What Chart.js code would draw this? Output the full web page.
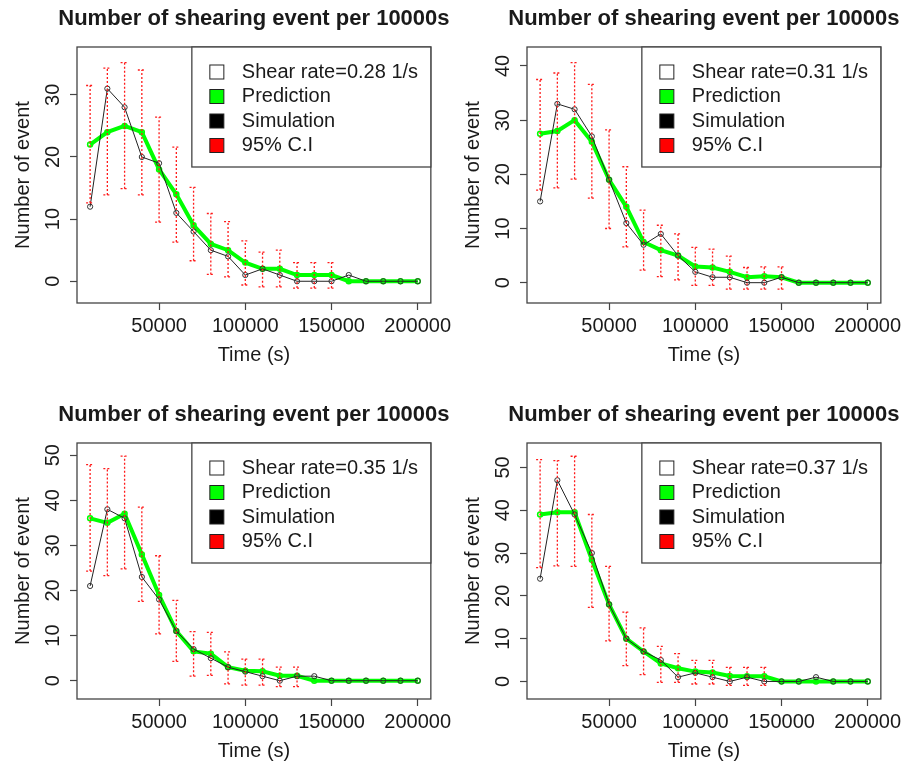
<!DOCTYPE html>
<html>
<head>
<meta charset="utf-8">
<title>Shearing events per 10000 s</title>
<script src="https://cdn.jsdelivr.net/npm/chart.js@4/dist/chart.umd.min.js"></script>
<style>
  body { margin: 0; background: #fff; width: 912px; height: 763px; position: relative; overflow: hidden; }
  .panel { position: absolute; width: 456px; height: 367px; }
</style>
</head>
<body>
<div class="panel" style="left:0;top:0"><canvas id="p1" width="456" height="367"></canvas></div>
<div class="panel" style="left:450px;top:0"><canvas id="p2" width="456" height="367"></canvas></div>
<div class="panel" style="left:0;top:396px"><canvas id="p3" width="456" height="367"></canvas></div>
<div class="panel" style="left:450px;top:396px"><canvas id="p4" width="456" height="367"></canvas></div>

<script>
// time bins (s)
const timeSec = [10000, 20000, 30000, 40000, 50000, 60000, 70000, 80000, 90000, 100000,
                 110000, 120000, 130000, 140000, 150000, 160000, 170000, 180000, 190000, 200000];
const xTicks = [50000, 100000, 150000, 200000];

const legendLabels = ['Prediction', 'Simulation', '95% C.I'];
const legendColors = ['#ffffff', '#00ff00', '#000000', '#ff0000'];

// shear rate 0.28 1/s
const sim28  = [12, 31, 28, 20, 19, 11, 8, 5, 4, 1, 2, 1, 0, 0, 0, 1, 0, 0, 0, 0];
const pred28 = [22, 24, 25, 24, 18, 14, 9, 6, 5, 3, 2, 2, 1, 1, 1, 0, 0, 0, 0, 0];
const lo28   = [12.6, 13.9, 14.9, 13.9, 9.5, 6.3, 3.3, 1.1, 0.7, -0.6, -0.9, -0.9, -1.1, -1.1, -1.1];
const hi28   = [31.5, 34.3, 35.2, 34.0, 26.4, 21.6, 15.1, 10.9, 9.6, 6.5, 4.7, 5.0, 3.0, 3.0, 3.0];

// shear rate 0.31 1/s
const sim31  = [15, 33, 32, 27, 19, 11, 7, 9, 5, 2, 1, 1, 0, 0, 1, 0, 0, 0, 0, 0];
const pred31 = [27.5, 28, 30, 26, 19, 14, 7.5, 6, 5, 3, 2.8, 2, 1, 1.2, 1, 0, 0, 0, 0, 0];
const lo31   = [17.1, 17.5, 19.1, 15.6, 10.0, 6.6, 2.3, 1.1, 0.5, -0.5, -0.5, -1.2, -1.2, -1.2, -1.2];
const hi31   = [37.5, 38.7, 40.6, 36.6, 28.2, 21.4, 13.4, 10.6, 9.0, 6.5, 6.2, 4.9, 2.8, 2.9, 2.9];

// shear rate 0.35 1/s
const sim35  = [21, 38, 36, 23, 18, 11, 7, 5, 3, 2, 1, 0, 1, 1, 0, 0, 0, 0, 0, 0];
const pred35 = [36, 35, 37, 28, 19, 11, 6.5, 6, 3, 2.2, 2.1, 1.1, 1.1, 0, 0, 0, 0, 0, 0, 0];
const lo35   = [24.3, 23.3, 24.8, 17.6, 10.4, 4.3, 1.0, 1.2, -0.7, -1.0, -1.0, -1.3, -1.3];
const hi35   = [47.9, 47.0, 49.8, 38.5, 27.7, 17.8, 10.9, 10.7, 6.4, 4.8, 4.8, 3.0, 3.0];

// shear rate 0.37 1/s
const sim37  = [24, 47, 39, 30, 18, 10, 7, 5, 1, 2, 1, 0, 1, 0, 0, 0, 1, 0, 0, 0];
const pred37 = [39, 39.5, 39.5, 28.4, 18, 10, 7, 4.2, 3.1, 2.3, 2.1, 1.3, 1.2, 1.2, 0, 0, 0, 0, 0, 0];
const lo37   = [26.6, 27.0, 26.9, 17.3, 9.5, 3.7, 1.6, -0.2, -0.2, -0.6, -0.6, -0.9, -0.9, -0.9];
const hi37   = [51.8, 51.6, 52.6, 39.0, 26.9, 16.2, 12.5, 8.2, 6.5, 4.9, 4.9, 3.3, 3.3, 3.3];

const FONT = '"Liberation Sans", Arial, sans-serif';
const INK = '#1a1a1a';

function points(values) {
    return timeSec.map((t, i) => ({ x: t, y: values[i] }));
}

function makePanel(id, rate, sim, pred, ciLo, ciHi, yMin, yMax, yTicks) {
    // R-like decorations: frame, rotated y labels, titles, error bars, legend
    const decor = {
        id: 'decor',
        afterDatasetsDraw(chart) {
            const ctx = chart.ctx;
            const xs = chart.scales.x, ys = chart.scales.y;
            ctx.save();
            ctx.strokeStyle = '#ff1a1a';
            ctx.lineWidth = 1.3;
            ctx.setLineDash([2, 2]);
            ciLo.forEach((lo, i) => {
                const x = xs.getPixelForValue(timeSec[i]);
                const yl = ys.getPixelForValue(lo);
                const yh = ys.getPixelForValue(ciHi[i]);
                ctx.beginPath();
                ctx.moveTo(x, yl); ctx.lineTo(x, yh);
                ctx.moveTo(x - 4, yl); ctx.lineTo(x + 4, yl);
                ctx.moveTo(x - 4, yh); ctx.lineTo(x + 4, yh);
                ctx.stroke();
            });
            ctx.restore();
        },
        afterDraw(chart) {
            const ctx = chart.ctx;
            const a = chart.chartArea;
            const ys = chart.scales.y;
            const cx = (a.left + a.right) / 2;
            ctx.save();

            // frame
            ctx.strokeStyle = '#444';
            ctx.lineWidth = 1.3;
            ctx.strokeRect(a.left, a.top, a.right - a.left, a.bottom - a.top);

            // y tick labels, rotated like R's default
            ctx.fillStyle = INK;
            ctx.font = '20px ' + FONT;
            ctx.textAlign = 'center';
            ctx.textBaseline = 'middle';
            yTicks.forEach(v => {
                ctx.save();
                ctx.translate(a.left - 24, ys.getPixelForValue(v));
                ctx.rotate(-Math.PI / 2);
                ctx.fillText(String(v), 0, 0);
                ctx.restore();
            });

            // axis titles
            ctx.save();
            ctx.translate(23, (a.top + a.bottom) / 2);
            ctx.rotate(-Math.PI / 2);
            ctx.fillText('Number of event', 0, 0);
            ctx.restore();
            ctx.fillText('Time (s)', cx, 355);

            // main title
            ctx.font = 'bold 22px ' + FONT;
            ctx.textBaseline = 'alphabetic';
            ctx.fillText('Number of shearing event per 10000s', cx, 25);

            // legend
            const lx = a.right - 239, ly = a.top;
            ctx.fillStyle = '#fff';
            ctx.fillRect(lx, ly, 239, 120);
            ctx.strokeStyle = '#444';
            ctx.strokeRect(lx, ly, 239, 120);
            const labels = ['Shear rate=' + rate + ' 1/s'].concat(legendLabels);
            ctx.font = '20px ' + FONT;
            ctx.textAlign = 'left';
            ctx.textBaseline = 'middle';
            labels.forEach((txt, i) => {
                const ry = ly + 25 + i * 24.5;
                ctx.fillStyle = legendColors[i];
                ctx.fillRect(lx + 18, ry - 7, 14, 14);
                ctx.strokeStyle = '#222';
                ctx.lineWidth = 1;
                ctx.strokeRect(lx + 18, ry - 7, 14, 14);
                ctx.fillStyle = INK;
                ctx.fillText(txt, lx + 50, ry);
            });
            ctx.restore();
        }
    };

    return new Chart(document.getElementById(id), {
        type: 'line',
        data: {
            datasets: [{
                label: 'Simulation',
                data: points(sim),
                borderColor: '#222',
                borderWidth: 1,
                pointRadius: 2.6,
                pointBorderWidth: 1,
                pointBorderColor: '#333',
                pointBackgroundColor: 'rgba(255,255,255,0)'
            }, {
                label: 'Prediction',
                data: points(pred),
                borderColor: '#00ff00',
                borderWidth: 4,
                pointRadius: 2.5,
                pointBorderWidth: 1.5,
                pointBorderColor: '#00ff00',
                pointBackgroundColor: 'rgba(0,0,0,0)'
            }]
        },
        options: {
            responsive: false,
            animation: false,
            events: [],
            layout: { padding: { top: 47, right: 24, left: 0, bottom: 0 } },
            plugins: {
                legend: { display: false },
                title: { display: false },
                tooltip: { enabled: false }
            },
            scales: {
                x: {
                    type: 'linear',
                    min: 2400,
                    max: 207600,
                    afterBuildTicks: s => { s.ticks = xTicks.map(v => ({ value: v })); },
                    afterFit: s => { s.height = 64; },
                    border: { display: false },
                    grid: { drawOnChartArea: false, tickLength: 7, tickColor: '#444', tickWidth: 1.2 },
                    ticks: {
                        color: INK,
                        font: { family: FONT, size: 20 },
                        maxRotation: 0,
                        padding: 4,
                        callback: v => String(v)
                    }
                },
                y: {
                    min: yMin,
                    max: yMax,
                    afterBuildTicks: s => { s.ticks = yTicks.map(v => ({ value: v })); },
                    afterFit: s => { s.width = 77; },
                    border: { display: false },
                    grid: { drawOnChartArea: false, tickLength: 7, tickColor: '#444', tickWidth: 1.2 },
                    ticks: { display: false }
                }
            }
        },
        plugins: [decor]
    });
}

makePanel('p1', '0.28', sim28, pred28, lo28, hi28, -3.5, 37.7, [0, 10, 20, 30]);
makePanel('p2', '0.31', sim31, pred31, lo31, hi31, -3.75, 43.5, [0, 10, 20, 30, 40]);
makePanel('p3', '0.35', sim35, pred35, lo35, hi35, -4.06, 52.7, [0, 10, 20, 30, 40, 50]);
makePanel('p4', '0.37', sim37, pred37, lo37, hi37, -4.1, 55.7, [0, 10, 20, 30, 40, 50]);
</script>
</body>
</html>
